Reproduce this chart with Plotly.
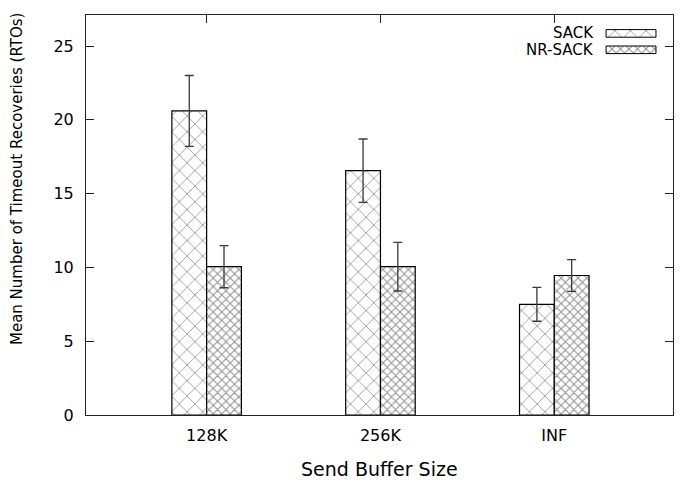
import plotly.graph_objects as go

# Send buffer sizes and mean timeout recoveries (RTOs) with error half-widths
buffer_sizes = ["128K", "256K", "INF"]
sack_mean = [20.6, 16.55, 7.5]
sack_err = [2.4, 2.15, 1.15]
nrsack_mean = [10.05, 10.05, 9.45]
nrsack_err = [1.43, 1.65, 1.07]
series_names = ["SACK", "NR-SACK"]
y_ticks = [0, 5, 10, 15, 20, 25]

FONT = "DejaVu Sans"
ERR_COLOR = "#3a3a3a"
LINE_COLOR = "#222222"

# Hatch styles: wide crosshatch for SACK, dense crosshatch for NR-SACK
sack_pattern = dict(shape="x", size=11, solidity=0.16, fgcolor="#3c3c3c", bgcolor="white")
nrsack_pattern = dict(shape="x", size=6, solidity=0.34, fgcolor="#2a2a2a", bgcolor="white")

fig = go.Figure()

fig.add_trace(go.Bar(
    x=buffer_sizes, y=sack_mean, name=series_names[0],
    marker=dict(color="white", pattern=sack_pattern, line=dict(color="black", width=1.2)),
    error_y=dict(type="data", array=sack_err, visible=True,
                 color=ERR_COLOR, thickness=1.3, width=4.5),
    showlegend=False,
))
fig.add_trace(go.Bar(
    x=buffer_sizes, y=nrsack_mean, name=series_names[1],
    marker=dict(color="white", pattern=nrsack_pattern, line=dict(color="black", width=1.2)),
    error_y=dict(type="data", array=nrsack_err, visible=True,
                 color=ERR_COLOR, thickness=1.3, width=4.5),
    showlegend=False,
))

# Key in the upper-right corner: label on the left, hatched swatch on the right
key_rows = [0.954, 0.913]
key_x0, key_len, key_h = 0.886, 0.085, 0.019
for name, row, pat in zip(series_names, key_rows, [sack_pattern, nrsack_pattern]):
    fig.add_trace(go.Bar(
        x=[key_len], y=[row], base=[key_x0], orientation="h", width=key_h,
        xaxis="x2", yaxis="y2",
        marker=dict(color="white", pattern=pat, line=dict(color="black", width=1)),
        showlegend=False, hoverinfo="skip",
    ))
    fig.add_annotation(
        x=0.869, y=row, xref="paper", yref="paper", text=name,
        xanchor="right", yanchor="middle", showarrow=False,
        font=dict(family=FONT, size=15, color="black"),
    )

fig.update_layout(
    width=681, height=489,
    margin=dict(l=86, r=8, t=15, b=74),
    paper_bgcolor="white", plot_bgcolor="white",
    barmode="group", bargap=0.6, bargroupgap=0,
    font=dict(family=FONT, size=16, color="black"),
    xaxis=dict(
        type="category", categoryorder="array", categoryarray=buffer_sizes,
        range=[-0.694, 2.683], showgrid=False, zeroline=False,
        showline=True, linecolor=LINE_COLOR, linewidth=1, mirror="ticks",
        ticks="inside", ticklen=8, tickcolor=LINE_COLOR, tickwidth=1,
        ticklabelstandoff=6,
        tickfont=dict(family=FONT, size=16, color="black"),
    ),
    yaxis=dict(
        range=[0, 27.1], tickvals=y_ticks, showgrid=False, zeroline=False,
        showline=True, linecolor=LINE_COLOR, linewidth=1, mirror="ticks",
        ticks="inside", ticklen=8, tickcolor=LINE_COLOR, tickwidth=1,
        ticklabelstandoff=8,
        tickfont=dict(family=FONT, size=16, color="black"),
    ),
    xaxis2=dict(overlaying="x", range=[0, 1], visible=False, fixedrange=True),
    yaxis2=dict(overlaying="y", range=[0, 1], visible=False, fixedrange=True),
)

# Axis titles
fig.add_annotation(
    x=0.5, y=-0.135, xref="paper", yref="paper", text="Send Buffer Size",
    xanchor="center", yanchor="middle", showarrow=False,
    font=dict(family=FONT, size=19, color="black"),
)
fig.add_annotation(
    x=-0.1175, y=0.59, xref="paper", yref="paper",
    text="Mean Number of Timeout Recoveries (RTOs)", textangle=-90,
    xanchor="center", yanchor="middle", showarrow=False,
    font=dict(family=FONT, size=15, color="black"),
)

fig.write_html("out.html")
